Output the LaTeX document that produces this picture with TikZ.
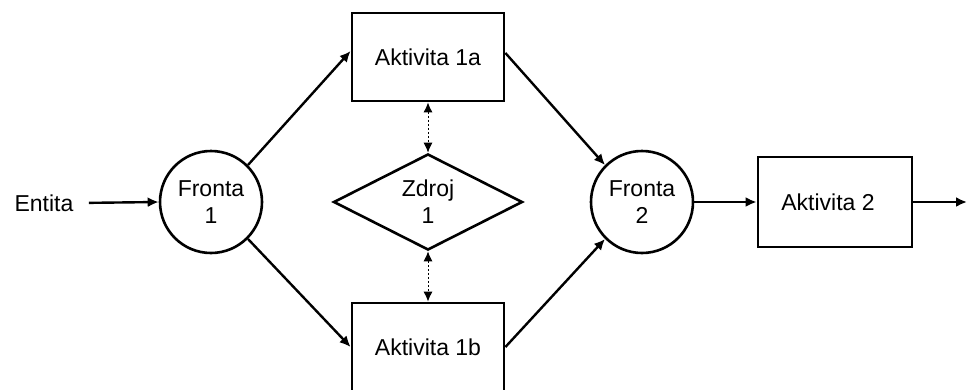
\documentclass[tikz,border=0pt]{standalone}
\usepackage{fontspec}
\setmainfont{Liberation Sans}
\usetikzlibrary{shapes.geometric,arrows.meta}
\begin{document}
\begin{tikzpicture}[x=1pt,y=-1pt,
  every node/.style={font=\fontsize{23}{27}\selectfont},
  front/.style={draw,circle,line width=2.6pt,minimum size=102pt,inner sep=0pt,align=center},
  activity/.style={draw,rectangle,line width=2.8pt,minimum width=152pt,minimum height=88pt,inner sep=0pt},
  source/.style={draw,diamond,line width=2.6pt,minimum width=189pt,minimum height=87pt,inner sep=0pt,align=center},
  flow/.style={line width=2.4pt,-{Latex[length=11pt,width=10pt]}},
  link/.style={line width=1pt,dash pattern=on 2pt off 2pt,{Latex[length=10pt,width=9pt]}-{Latex[length=10pt,width=9pt]}}]
\useasboundingbox (0,0) rectangle (967,389);
\clip (0,0) rectangle (967,389);
\node (ent) at (44,203) {Entita};
\node[front] (f1) at (211,202) {Fronta\\1};
\node[activity] (a1a) at (428,57) {Aktivita 1a};
\node[activity] (a1b) at (428,347) {Aktivita 1b};
\node[source] (zd) at (428,202) {Zdroj\\1};
\node[front] (f2) at (642,202) {Fronta\\2};
\node[activity,minimum width=154pt,minimum height=90pt] (a2) at (835,202) {\hspace*{-14pt}Aktivita 2};
\coordinate (out) at (967,202);
\draw[flow,shorten <=12pt] (ent.east) -- (f1.west);
\draw[flow] (f1.45) -- ([yshift=6pt]a1a.west);
\draw[flow] (f1.-45) -- (a1b.west);
\draw[flow] ([yshift=4pt]a1a.east) -- (f2.135);
\draw[flow] (a1b.east) -- (f2.-135);
\draw[flow] (f2.east) -- (a2.west);
\draw[flow] (a2.east) -- (out);
\draw[link] (a1a.south) -- (zd.north);
\draw[link] (zd.south) -- (a1b.north);
\end{tikzpicture}
\end{document}
